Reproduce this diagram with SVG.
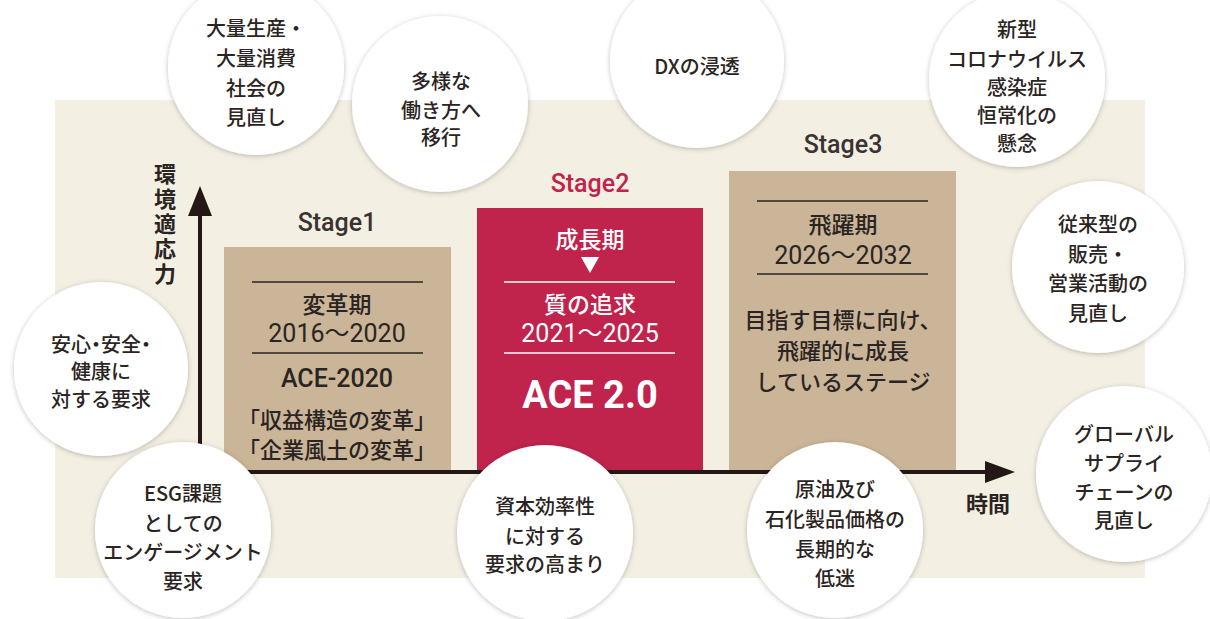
<svg xmlns="http://www.w3.org/2000/svg" width="1210" height="619" viewBox="0 0 1210 619">
<defs>
<style>
.jp{font-family:"Noto Sans CJK JP","Noto Sans",sans-serif;fill:#2a2422;text-anchor:middle;dominant-baseline:central;font-weight:500}
.c{font-size:20px}
.st{font-family:Roboto,"Liberation Sans",sans-serif;font-weight:500;font-size:25px;text-anchor:middle;fill:#3a3331}
.lat{font-family:Roboto,"Noto Sans CJK JP",sans-serif;text-anchor:middle;dominant-baseline:central}
.circ{fill:#fff;filter:url(#sh)}
.rule{stroke:#2a2422;stroke-width:1.6}
.wrule{stroke:#fff;stroke-width:1.6}
</style>
<filter id="sh" x="-20%" y="-20%" width="140%" height="140%">
<feDropShadow dx="0" dy="1" stdDeviation="2.5" flood-color="#000" flood-opacity="0.25"/>
</filter>
</defs>
<rect width="1210" height="619" fill="#fff"/>
<rect x="55" y="100" width="1090" height="478" fill="#f4efe3"/>

<g id="stage1">
<text class="st" x="337" y="231">Stage1</text>
<rect x="224" y="247" width="227" height="225" fill="#cbb598"/>
<line class="rule" x1="252" y1="282" x2="423" y2="282"/>
<text class="jp" x="337" y="303" font-size="23">変革期</text>
<text class="lat" x="337" y="333" font-size="25" fill="#2a2422">2016〜2020</text>
<line class="rule" x1="252" y1="353" x2="423" y2="353"/>
<text class="lat" x="337" y="378" font-size="25" font-weight="500" fill="#2a2422">ACE-2020</text>
<text class="jp" x="337" y="418" font-size="22">「収益構造の変革」</text>
<text class="jp" x="337" y="448" font-size="22">「企業風土の変革」</text>
</g>

<g id="stage2">
<text class="st" x="590" y="192" style="fill:#c0244c">Stage2</text>
<rect x="477" y="208" width="226" height="264" fill="#c0234c"/>
<text class="jp" x="590" y="238" font-size="23" style="fill:#fff">成長期</text>
<polygon points="581,257 599,257 590,273" fill="#fff"/>
<line class="wrule" x1="504" y1="282" x2="675" y2="282"/>
<text class="jp" x="590" y="303" font-size="23" style="fill:#fff">質の追求</text>
<text class="lat" x="590" y="333" font-size="25" fill="#fff">2021〜2025</text>
<line class="wrule" x1="504" y1="353" x2="675" y2="353"/>
<text class="lat" x="590" y="395" font-size="38" font-weight="700" fill="#fff">ACE 2.0</text>
</g>

<g id="stage3">
<text class="st" x="843" y="153">Stage3</text>
<rect x="729" y="171" width="227" height="301" fill="#cbb598"/>
<line class="rule" x1="757" y1="201" x2="928" y2="201"/>
<text class="jp" x="843" y="223" font-size="23">飛躍期</text>
<text class="lat" x="843" y="255" font-size="25" fill="#2a2422">2026〜2032</text>
<line class="rule" x1="757" y1="274" x2="928" y2="274"/>
<text class="jp" x="843" y="318" font-size="22">目指す目標に向け、</text>
<text class="jp" x="843" y="349" font-size="22">飛躍的に成長</text>
<text class="jp" x="843" y="380" font-size="22">しているステージ</text>
</g>

<g id="axes">
<line x1="200" y1="212" x2="200" y2="474" stroke="#231815" stroke-width="4"/>
<polygon points="200,186 212,216 188,216" fill="#231815"/>
<line x1="198" y1="472" x2="990" y2="472" stroke="#231815" stroke-width="4"/>
<polygon points="1015,472 985,461 985,483" fill="#231815"/>
<text x="165" y="163" font-family="'Noto Sans CJK JP',sans-serif" font-size="22" font-weight="700" fill="#2a2422" style="writing-mode:vertical-rl;letter-spacing:3px">環境適応力</text>
<text class="jp" x="988" y="502" font-size="22" font-weight="700" style="font-weight:700">時間</text>
</g>

<g id="n1"><circle class="circ" cx="256" cy="67" r="88"/>
<text class="jp c" x="256" y="27">大量生産・</text><text class="jp c" x="256" y="57">大量消費</text><text class="jp c" x="256" y="87">社会の</text><text class="jp c" x="256" y="116">見直し</text></g>

<g id="n2"><circle class="circ" cx="440" cy="104" r="88"/>
<text class="jp c" x="441" y="80">多様な</text><text class="jp c" x="441" y="109">働き方へ</text><text class="jp c" x="441" y="136">移行</text></g>

<g id="n3"><circle class="circ" cx="697" cy="61" r="87"/>
<text class="jp c" x="697" y="65">DXの浸透</text></g>

<g id="n4"><circle class="circ" cx="1017" cy="79" r="88"/>
<text class="jp c" x="1017" y="28">新型</text><text class="jp c" x="1017" y="58">コロナウイルス</text><text class="jp c" x="1017" y="86">感染症</text><text class="jp c" x="1017" y="114">恒常化の</text><text class="jp c" x="1017" y="142">懸念</text></g>

<g id="n5"><circle class="circ" cx="101" cy="369" r="87"/>
<text class="jp c" x="101" y="343" style="font-feature-settings:'palt'">安心・安全・</text><text class="jp c" x="101" y="370">健康に</text><text class="jp c" x="101" y="398">対する要求</text></g>

<g id="n6"><circle class="circ" cx="183" cy="530" r="88"/>
<text class="jp c" x="183" y="492">ESG課題</text><text class="jp c" x="183" y="522">としての</text><text class="jp c" x="183" y="551">エンゲージメント</text><text class="jp c" x="183" y="580">要求</text></g>

<g id="n7"><circle class="circ" cx="545" cy="533" r="88"/>
<text class="jp c" x="545" y="505">資本効率性</text><text class="jp c" x="545" y="535">に対する</text><text class="jp c" x="545" y="563">要求の高まり</text></g>

<g id="n8"><circle class="circ" cx="835" cy="530" r="88"/>
<text class="jp c" x="835" y="488">原油及び</text><text class="jp c" x="835" y="518">石化製品価格の</text><text class="jp c" x="835" y="548">長期的な</text><text class="jp c" x="835" y="577">低迷</text></g>

<g id="n9"><circle class="circ" cx="1098" cy="267" r="86"/>
<text class="jp c" x="1098" y="223">従来型の</text><text class="jp c" x="1098" y="253">販売・</text><text class="jp c" x="1098" y="282">営業活動の</text><text class="jp c" x="1098" y="312">見直し</text></g>

<g id="n10"><circle class="circ" cx="1124" cy="474" r="88"/>
<text class="jp c" x="1124" y="433">グローバル</text><text class="jp c" x="1124" y="462">サプライ</text><text class="jp c" x="1124" y="491">チェーンの</text><text class="jp c" x="1124" y="519">見直し</text></g>
</svg>
